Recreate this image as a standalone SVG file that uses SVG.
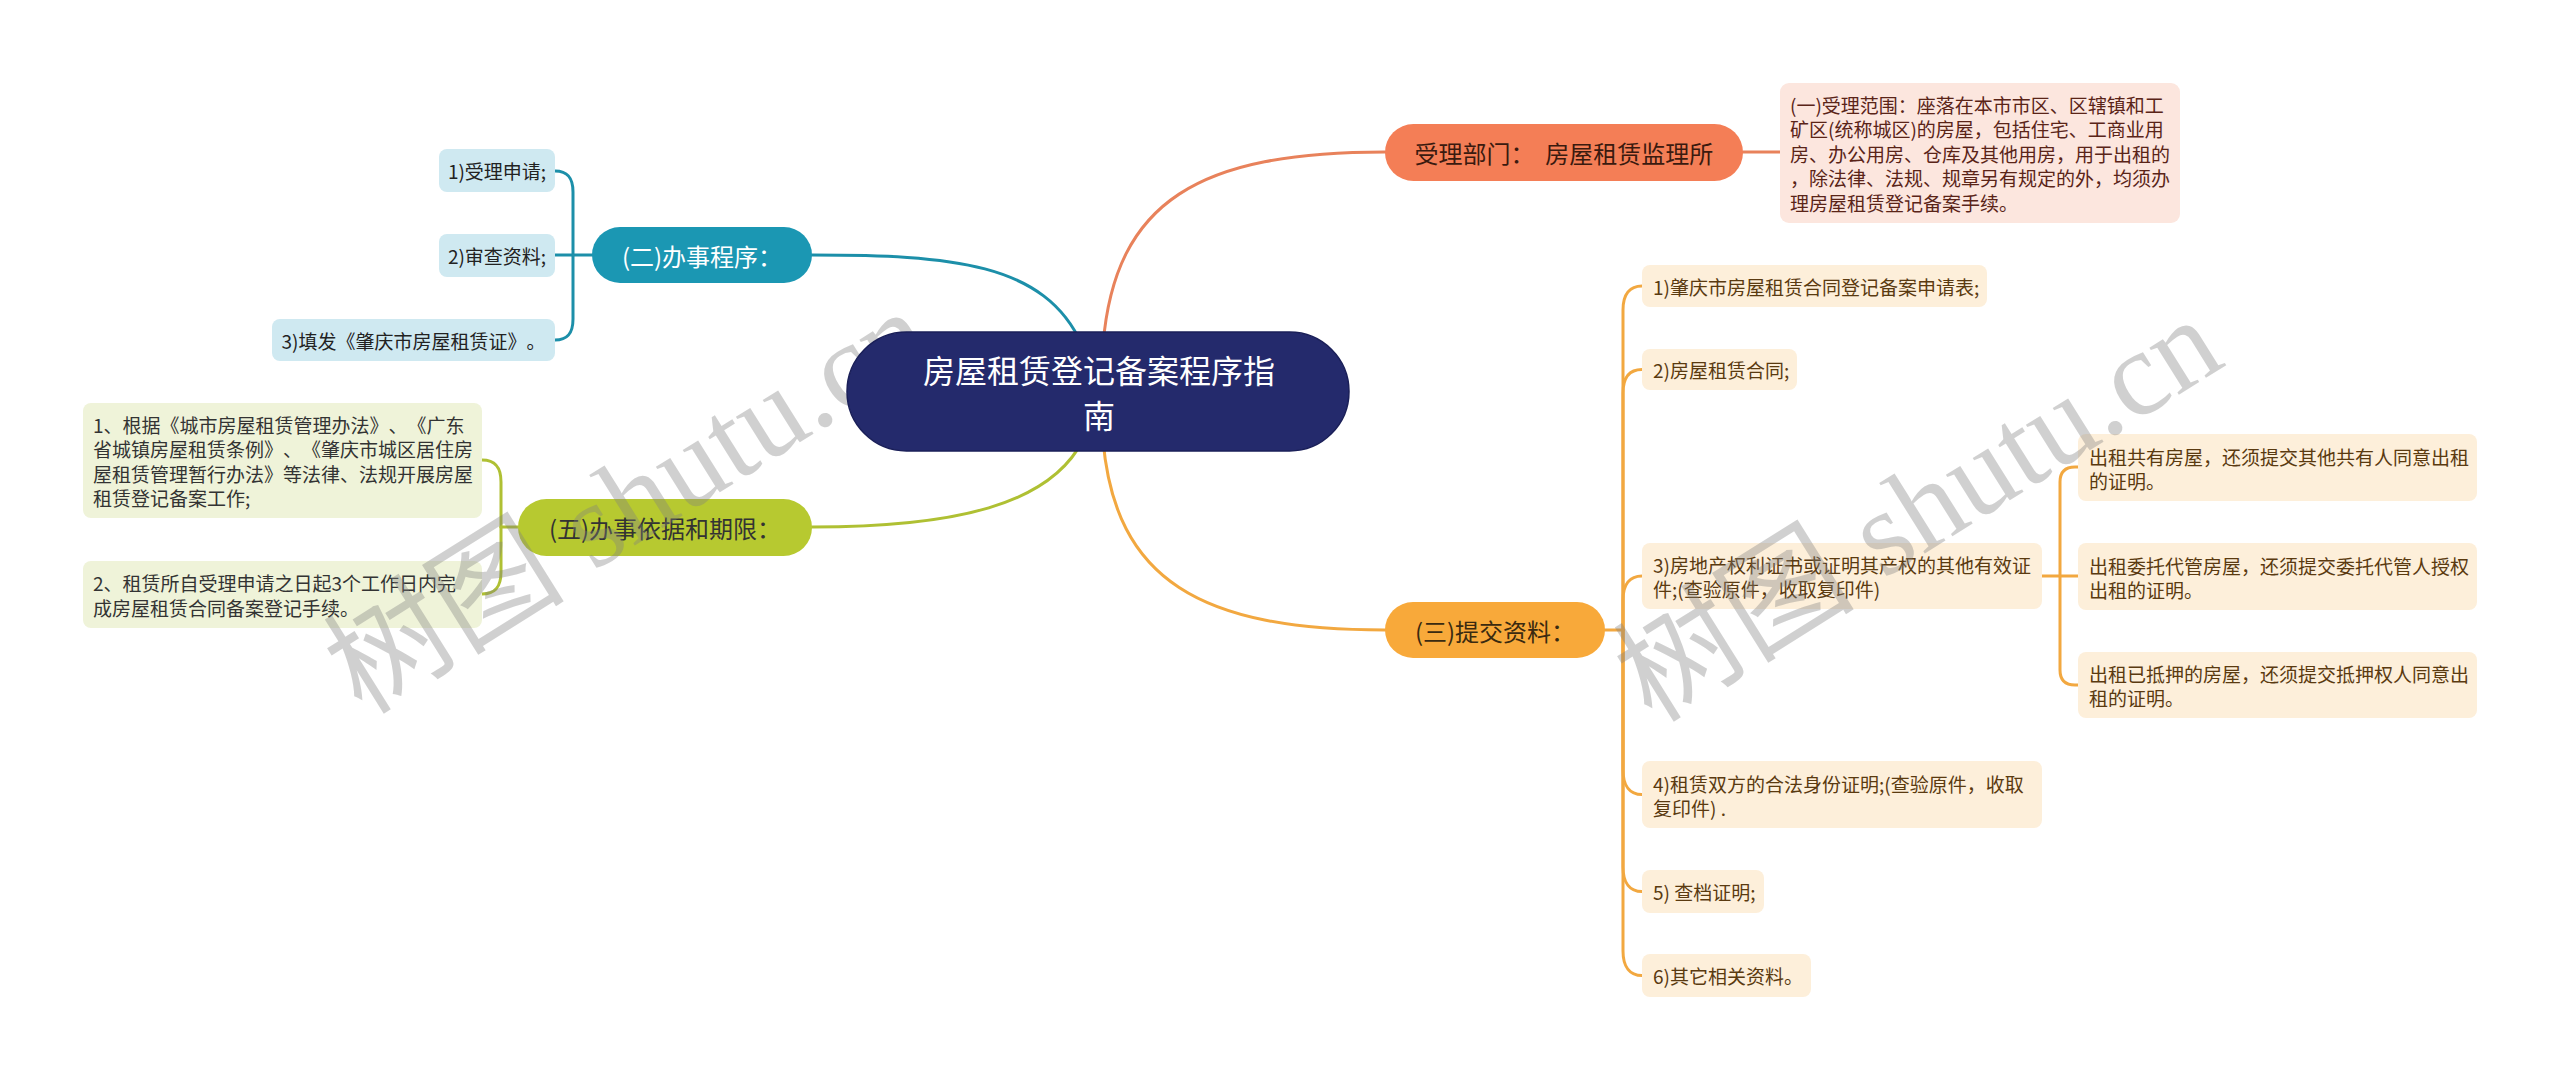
<svg xmlns="http://www.w3.org/2000/svg" width="2560" height="1079" viewBox="0 0 2560 1079">
<style>
text{font-family:"Noto Sans CJK SC","Noto Sans",sans-serif;dominant-baseline:central;text-spacing-trim:space-all}
.c{fill:none;stroke-width:3;stroke-linecap:round}
.t19{font-size:19px}
.t24{font-size:24px}
.mid{text-anchor:middle}
.wm{font-family:"Liberation Serif","Noto Sans CJK SC",serif;font-size:121px;fill:#808080;opacity:0.36;dominant-baseline:alphabetic}
.lb{fill:#CFE9F1}.lbt{fill:#222}
.lg{fill:#EFF3D9}.lgt{fill:#333}
.lc{fill:#FDEFDA}.lct{fill:#5a3a10}
</style>
<rect width="2560" height="1079" fill="#FFFFFF"/>
<g id="connectors">
<g stroke="#E8825B" class="c">
<path d="M1103 345 C1115 200 1200 152 1385 152"/>
<path d="M1743 152 H1780"/>
</g>
<g stroke="#1C8FA9" class="c">
<path d="M812 255 C950 255 1045 262 1082 345"/>
<path d="M592 255 H573"/>
<path d="M573 255 V192 C573 178 568 171 555 171"/>
<path d="M573 255 H555"/>
<path d="M573 255 V319 C573 333 568 340 555 340"/>
</g>
<g stroke="#AFC033" class="c">
<path d="M812 527 C955 527 1050 505 1083 440"/>
<path d="M518 527 H501"/>
<path d="M501 527 V482 C501 468 496 460 482 460"/>
<path d="M501 527 V572 C501 586 496 594 482 594"/>
</g>
<g stroke="#F2A840" class="c">
<path d="M1103 440 C1115 580 1200 630 1385 630"/>
<path d="M1605 630 H1623"/>
<path d="M1623 630 V310 C1623 294 1630 286 1642 286"/>
<path d="M1623 630 V393 C1623 377 1630 369.5 1642 369.5"/>
<path d="M1623 630 V600 C1623 584 1630 576 1642 576"/>
<path d="M1623 630 V770 C1623 786 1630 794.5 1642 794.5"/>
<path d="M1623 630 V867 C1623 883 1630 891.5 1642 891.5"/>
<path d="M1623 630 V951 C1623 967 1630 975.5 1642 975.5"/>
<path d="M2042 576 H2078"/>
<path d="M2060 576 V482 Q2060 467 2075 467 H2078"/>
<path d="M2060 576 V670 Q2060 685 2075 685 H2078"/>
</g>
</g>
<g id="n-dept">
<rect x="1385" y="124" width="358" height="57" rx="28.5" fill="#F47E56"/>
<text x="1564" y="152.5" class="t24 mid" fill="#3a1a0f" xml:space="preserve">受理部门：  房屋租赁监理所</text>
</g>
<g id="n-dept-desc">
<rect x="1780" y="83" width="400" height="140" rx="9" fill="#FCE6DE"/>
<g class="t19" fill="#5a2418">
<text x="1790" y="104">(一)受理范围：座落在本市市区、区辖镇和工</text>
<text x="1790" y="128.5">矿区(统称城区)的房屋，包括住宅、工商业用</text>
<text x="1790" y="153">房、办公用房、仓库及其他用房，用于出租的</text>
<text x="1790" y="177.5">，除法律、法规、规章另有规定的外，均须办</text>
<text x="1790" y="202">理房屋租赁登记备案手续。</text>
</g>
</g>
<g id="n-proc">
<rect x="592" y="227" width="220" height="56" rx="28" fill="#1B97B3"/>
<text x="702" y="255" class="t24 mid" fill="#FFFFFF">(二)办事程序：</text>
</g>
<g id="n-proc-1">
<rect x="439" y="149" width="116" height="43" rx="8" class="lb"/>
<text x="497" y="170.5" class="t19 mid lbt">1)受理申请;</text>
</g>
<g id="n-proc-2">
<rect x="439" y="234" width="116" height="43" rx="8" class="lb"/>
<text x="497" y="255.5" class="t19 mid lbt">2)审查资料;</text>
</g>
<g id="n-proc-3">
<rect x="272" y="319" width="283" height="42" rx="8" class="lb"/>
<text x="413.5" y="340" class="t19 mid lbt">3)填发《肇庆市房屋租赁证》。</text>
</g>
<g id="n-basis">
<rect x="518" y="499" width="294" height="57" rx="28.5" fill="#B7C930"/>
<text x="665" y="527.5" class="t24 mid" fill="#333333">(五)办事依据和期限：</text>
</g>
<g id="n-basis-1">
<rect x="83" y="403" width="399" height="115" rx="8" class="lg"/>
<g class="t19 lgt">
<text x="93" y="424">1、根据《城市房屋租赁管理办法》、《广东</text>
<text x="93" y="448.5">省城镇房屋租赁条例》、《肇庆市城区居住房</text>
<text x="93" y="473">屋租赁管理暂行办法》等法律、法规开展房屋</text>
<text x="93" y="497.5">租赁登记备案工作;</text>
</g>
</g>
<g id="n-basis-2">
<rect x="83" y="561" width="399" height="67" rx="8" class="lg"/>
<g class="t19 lgt">
<text x="93" y="582.5">2、租赁所自受理申请之日起3个工作日内完</text>
<text x="93" y="607">成房屋租赁合同备案登记手续。</text>
</g>
</g>
<g id="n-docs">
<rect x="1385" y="602" width="220" height="56" rx="28" fill="#F8A93A"/>
<text x="1495" y="630" class="t24 mid" fill="#3a2a10">(三)提交资料：</text>
</g>
<g id="n-docs-1">
<rect x="1642" y="265" width="345" height="42" rx="8" class="lc"/>
<text x="1653" y="286" class="t19 lct">1)肇庆市房屋租赁合同登记备案申请表;</text>
</g>
<g id="n-docs-2">
<rect x="1642" y="349" width="155" height="41" rx="8" class="lc"/>
<text x="1653" y="369.5" class="t19 lct">2)房屋租赁合同;</text>
</g>
<g id="n-docs-3">
<rect x="1642" y="543" width="400" height="66" rx="8" class="lc"/>
<g class="t19 lct">
<text x="1653" y="564.5">3)房地产权利证书或证明其产权的其他有效证</text>
<text x="1653" y="588.5">件;(查验原件，收取复印件)</text>
</g>
</g>
<g id="n-docs-3a">
<rect x="2078" y="434" width="399" height="67" rx="8" class="lc"/>
<g class="t19 lct">
<text x="2089" y="456">出租共有房屋，还须提交其他共有人同意出租</text>
<text x="2089" y="480">的证明。</text>
</g>
</g>
<g id="n-docs-3b">
<rect x="2078" y="543" width="399" height="67" rx="8" class="lc"/>
<g class="t19 lct">
<text x="2089" y="565">出租委托代管房屋，还须提交委托代管人授权</text>
<text x="2089" y="589">出租的证明。</text>
</g>
</g>
<g id="n-docs-3c">
<rect x="2078" y="652" width="399" height="66" rx="8" class="lc"/>
<g class="t19 lct">
<text x="2089" y="673">出租已抵押的房屋，还须提交抵押权人同意出</text>
<text x="2089" y="697">租的证明。</text>
</g>
</g>
<g id="n-docs-4">
<rect x="1642" y="761" width="400" height="67" rx="8" class="lc"/>
<g class="t19 lct">
<text x="1653" y="783">4)租赁双方的合法身份证明;(查验原件，收取</text>
<text x="1653" y="807">复印件) .</text>
</g>
</g>
<g id="n-docs-5">
<rect x="1642" y="870" width="122" height="43" rx="8" class="lc"/>
<text x="1653" y="891.5" class="t19 lct">5) 查档证明;</text>
</g>
<g id="n-docs-6">
<rect x="1642" y="954" width="169" height="43" rx="8" class="lc"/>
<text x="1653" y="975.5" class="t19 lct">6)其它相关资料。</text>
</g>
<g id="watermark">
<text class="wm" transform="translate(362 716) rotate(-32)">树图 shutu.cn</text>
<text class="wm" transform="translate(1652 724) rotate(-32)">树图 shutu.cn</text>
</g>
<g id="n-root">
<rect x="847" y="332" width="502" height="119" rx="59.5" fill="#242A6C" stroke="#1a1f58" stroke-width="1.5"/>
<text x="1099" y="369" font-size="32" class="mid" fill="#FFFFFF">房屋租赁登记备案程序指</text>
<text x="1099" y="414" font-size="32" class="mid" fill="#FFFFFF">南</text>
</g>
</svg>
